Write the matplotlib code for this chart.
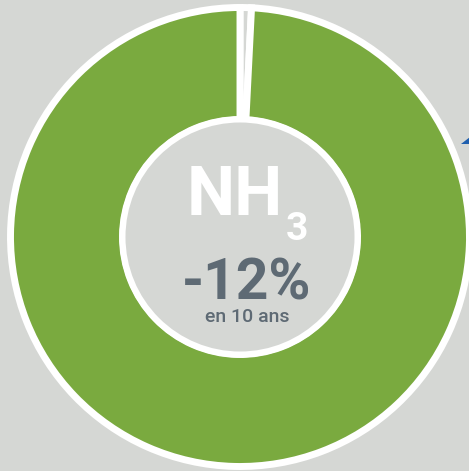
import matplotlib.pyplot as plt
from matplotlib.patches import Circle, Polygon

# data
labels = ["gap", "NH3"]
values = [0.8, 99.2]
slice_colors = ["#d5d7d4", "#7aaa3f"]
title_main = "NH"
title_sub = "3"
change_text = "-12%"
period_text = "en 10 ans"

bg = "#d5d7d4"
text_dark = "#5e6a74"

W, H = 469, 471
fig = plt.figure(figsize=(W / 100, H / 100), dpi=100)
fig.patch.set_facecolor(bg)
ax = fig.add_axes([0, 0, 1, 1])
ax.set_facecolor(bg)

cx, cy = 240, H - 237

# anneau
ax.pie(values, colors=slice_colors, startangle=90, counterclock=False,
       center=(cx, cy), radius=229.5, frame=True,
       wedgeprops=dict(width=112, edgecolor="white", linewidth=5.0))

# cercle central
ax.add_patch(Circle((cx, cy), 117.5, facecolor=bg, edgecolor="white", linewidth=4.3, zorder=3))

# petite flèche bleue coupée au bord
ax.add_patch(Polygon([(461, H - 144), (469.5, H - 144), (469.5, H - 137)],
                     closed=True, facecolor="#1f5fae", edgecolor="none", zorder=4))

font = "Roboto"
ax.text(235, H - 215, title_main, color="white", fontsize=49, fontweight="bold",
        family=font, ha="center", va="baseline", zorder=5)
ax.text(297, H - 240, title_sub, color="white", fontsize=28, fontweight="bold",
        family=font, ha="center", va="baseline", zorder=5)
ax.text(247, H - 300, change_text, color=text_dark, fontsize=41, fontweight="bold",
        family=font, ha="center", va="baseline", zorder=5)
ax.text(247, H - 322, period_text, color=text_dark, fontsize=14, fontweight="medium",
        family=font, ha="center", va="baseline", zorder=5)

ax.set_xlim(0, W)
ax.set_ylim(0, H)
ax.set_aspect("equal")
ax.axis("off")

fig.savefig("out.png", dpi=100, facecolor=bg)
